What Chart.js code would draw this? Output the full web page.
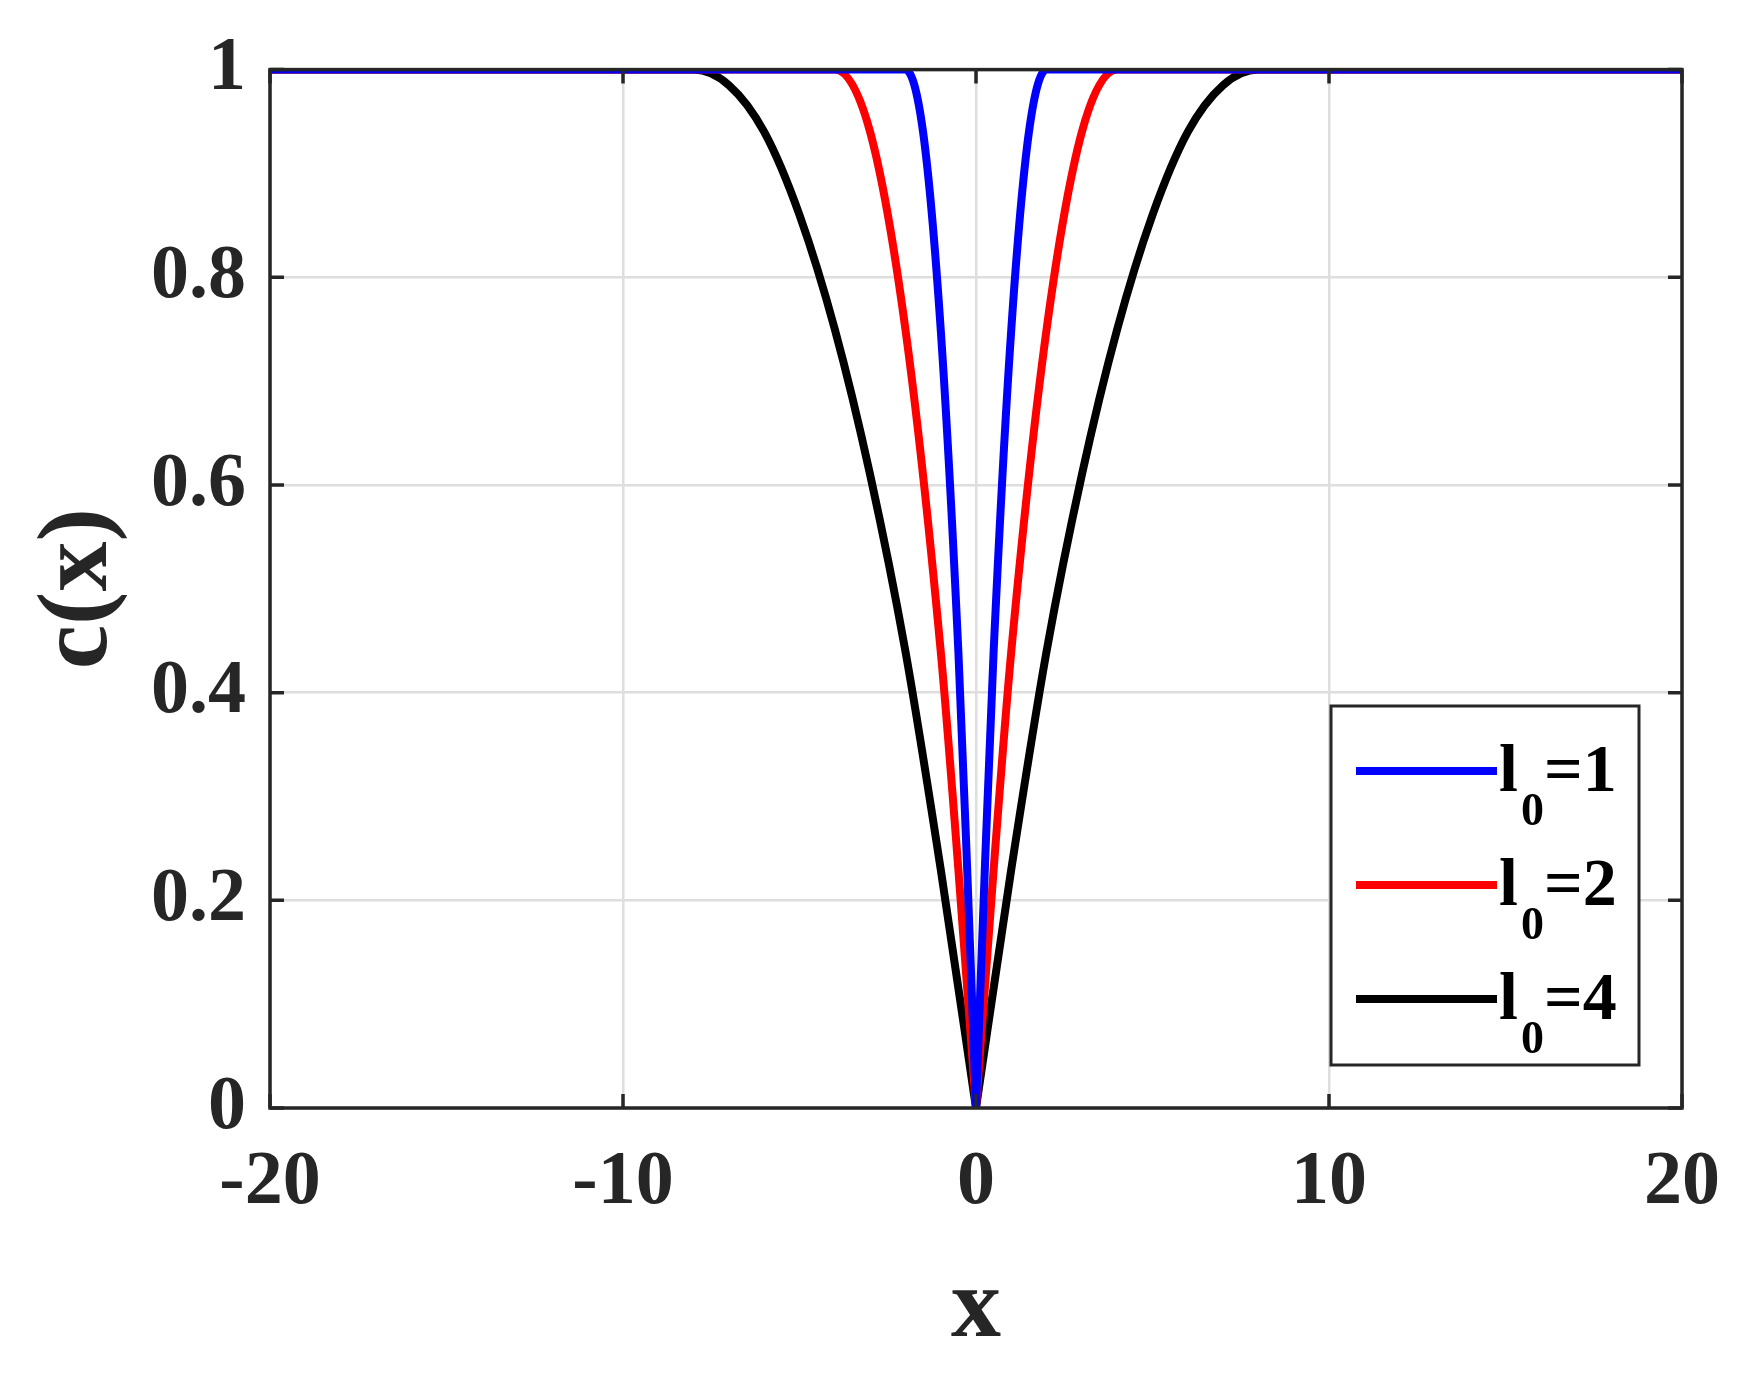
<!DOCTYPE html>
<html>
<head>
<meta charset="utf-8">
<script src="https://cdn.jsdelivr.net/npm/chart.js@4/dist/chart.umd.min.js"></script>
<style>
  html, body { margin: 0; padding: 0; background: #fff; }
  #wrap { width: 1752px; height: 1374px; }
</style>
</head>
<body>
<div id="wrap"><canvas id="Graph"></canvas></div>
<script>
// values (each curve split at the cusp x=0)
const xBlueL = [-20, -2, -1.5, -1, -0.5, -0.25, 0];
const yBlueL = [1, 1, 0.94, 0.75, 0.44, 0.23, 0];
const xBlueR = [0, 0.25, 0.5, 1, 1.5, 2, 20];
const yBlueR = [0, 0.23, 0.44, 0.75, 0.94, 1, 1];
const xRedL = [-20, -4, -3, -2, -1, -0.5, 0];
const yRedL = [1, 1, 0.94, 0.75, 0.44, 0.23, 0];
const xRedR = [0, 0.5, 1, 2, 3, 4, 20];
const yRedR = [0, 0.23, 0.44, 0.75, 0.94, 1, 1];
const xBlackL = [-20, -8, -7, -6, -5, -4, -3, -2, -1, 0];
const yBlackL = [1, 1, 0.985, 0.94, 0.86, 0.75, 0.61, 0.44, 0.23, 0];
const xBlackR = [0, 1, 2, 3, 4, 5, 6, 7, 8, 20];
const yBlackR = [0, 0.23, 0.44, 0.61, 0.75, 0.86, 0.94, 0.985, 1, 1];
const xTicks = [-20, -10, 0, 10, 20];
const yTicks = [0, 0.2, 0.4, 0.6, 0.8, 1];
const legendLabels = ['1', '2', '4'];

const FONT = '"Liberation Serif", "Times New Roman", Times, serif';
const AXIS = '#262626';
const COLORS = ['#0000ff', '#ff0000', '#000000'];

const toPoints = (xs, ys) => xs.map((x, i) => ({ x: x, y: ys[i] }));

const halves = [
  [toPoints(xBlueL, yBlueL), COLORS[0]],
  [toPoints(xBlueR, yBlueR), COLORS[0]],
  [toPoints(xRedL, yRedL), COLORS[1]],
  [toPoints(xRedR, yRedR), COLORS[1]],
  [toPoints(xBlackL, yBlackL), COLORS[2]],
  [toPoints(xBlackR, yBlackR), COLORS[2]],
];

// inward ticks on all four sides, plot box and legend
const framePlugin = {
  id: 'frame',
  afterDatasetsDraw(chart) {
    const c = chart.ctx, a = chart.chartArea;
    const xs = chart.scales.x, ys = chart.scales.y;
    c.save();
    c.strokeStyle = AXIS;
    c.lineWidth = 3.5;
    c.strokeRect(a.left, a.top, a.right - a.left, a.bottom - a.top);
    const L = 14;
    xTicks.forEach(v => {
      const p = xs.getPixelForValue(v);
      c.beginPath();
      c.moveTo(p, a.bottom); c.lineTo(p, a.bottom - L);
      c.moveTo(p, a.top); c.lineTo(p, a.top + L);
      c.stroke();
    });
    yTicks.forEach(v => {
      const p = ys.getPixelForValue(v);
      c.beginPath();
      c.moveTo(a.left, p); c.lineTo(a.left + L, p);
      c.moveTo(a.right, p); c.lineTo(a.right - L, p);
      c.stroke();
    });

    // legend
    const bx = 1331, by = 706, bw = 308, bh = 359;
    c.fillStyle = '#fff';
    c.fillRect(bx, by, bw, bh);
    c.lineWidth = 3;
    c.strokeRect(bx, by, bw, bh);
    legendLabels.forEach((lab, i) => {
      const yy = by + 65 + i * 114;
      c.strokeStyle = COLORS[i];
      c.lineWidth = 8;
      c.beginPath();
      c.moveTo(bx + 25, yy); c.lineTo(bx + 166, yy);
      c.stroke();
      c.fillStyle = '#000';
      c.textBaseline = 'alphabetic';
      c.font = 'bold 68px ' + FONT;
      c.fillText('l', bx + 168, yy + 20);
      c.font = 'bold 46px ' + FONT;
      c.fillText('0', bx + 190, yy + 54);
      c.font = 'bold 68px ' + FONT;
      c.fillText('=' + lab, bx + 213, yy + 20);
    });
    c.restore();
  }
};

new Chart(document.getElementById('Graph').getContext('2d'), {
  type: 'line',
  data: {
    datasets: halves.map(h => ({
      data: h[0],
      borderColor: h[1],
      borderWidth: 8,
      pointRadius: 0,
      fill: false,
      cubicInterpolationMode: 'monotone',
    })),
  },
  options: {
    responsive: true,
    maintainAspectRatio: false,
    animation: false,
    layout: { padding: { top: 69, right: 70, left: 0, bottom: 0 } },
    plugins: { legend: { display: false }, tooltip: { enabled: false } },
    scales: {
      x: {
        type: 'linear',
        min: -20, max: 20,
        afterBuildTicks: s => { s.ticks = xTicks.map(v => ({ value: v })); },
        afterFit: s => { s.height = 266; },
        grid: { color: '#dedede', lineWidth: 2.5, drawTicks: false },
        border: { display: false },
        ticks: { color: AXIS, padding: 30, font: { family: FONT, size: 76, weight: 'bold' } },
        title: { display: true, text: 'x', color: AXIS, padding: { top: 6 }, font: { family: FONT, size: 100, weight: 'bold' } },
      },
      y: {
        min: 0, max: 1,
        afterBuildTicks: s => { s.ticks = yTicks.map(v => ({ value: v })); },
        afterFit: s => { s.width = 270; },
        grid: { color: '#dedede', lineWidth: 2.5, drawTicks: false },
        border: { display: false },
        ticks: { color: AXIS, padding: 24, font: { family: FONT, size: 76, weight: 'bold' }, callback: v => String(v) },
        title: { display: true, text: 'c(x)', color: AXIS, padding: { top: 20, bottom: 0 }, font: { family: FONT, size: 100, weight: 'bold' } },
      },
    },
  },
  plugins: [framePlugin],
});
</script>
</body>
</html>
